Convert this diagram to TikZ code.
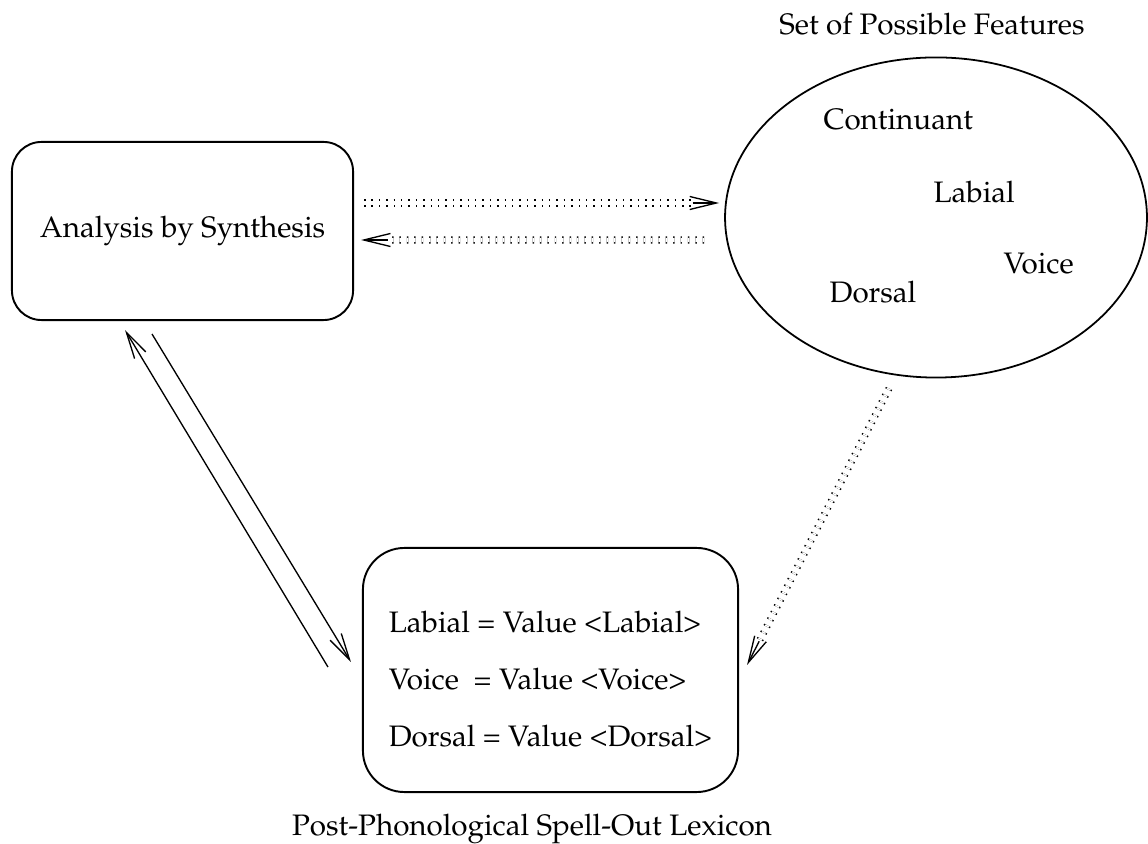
\documentclass[tikz,border=0pt]{standalone}
\usepackage[T1]{fontenc}
\usepackage{mathpazo}
\usetikzlibrary{positioning, calc, arrows.meta, shapes.geometric}

\begin{document}
\begin{tikzpicture}[
  x=0.338pt, y=-0.338pt,
  procbox/.style={rectangle, rounded corners=10pt, draw, line width=0.65pt, minimum width=115.3pt, minimum height=60.2pt, inner sep=0pt},
  lexbox/.style={rectangle, rounded corners=14pt, draw, line width=0.65pt, minimum width=126.8pt, minimum height=82.5pt, align=left, inner sep=0pt, text height=53.8pt, text depth=2pt},
  featset/.style={ellipse, draw, line width=0.6pt, minimum width=142.6pt, minimum height=108.2pt, inner sep=0pt},
  featname/.style={anchor=base west, inner sep=0pt},
  capt/.style={anchor=base, inner sep=0pt},
  arr/.style={-{Straight Barb[length=9pt, width=4.4pt]}, line width=0.45pt},
  ddot/.style={double, double distance=1.4pt, line width=0.5pt, dash pattern=on 0.5pt off 2pt},
  arrhead/.style={-{Straight Barb[length=9pt, width=4.4pt]}, line width=0.45pt},
]
\useasboundingbox (0,0) rectangle (1148,844);

% boxes
\node[procbox] (abs) at (182.5,231) {Analysis by Synthesis};
\node[featset] (feat) at (936,217.5) {};
\node[capt] (featttl) at (932,35) {Set of Possible Features};
\node[featname] (cont) at (823,130) {Continuant};
\node[featname] (lab) at (933,203) {Labial};
\node[featname] (voi) at (1003,274) {Voice};
\node[featname] (dor) at (829,303) {Dorsal};

\node[lexbox] (lex) at (550.5,670) {Labial = Value <Labial>\\[7.3pt] Voice~ = Value <Voice>\\[7.3pt] Dorsal = Value <Dorsal>};
\node[capt] (lexttl) at (532,835) {Post-Phonological Spell-Out Lexicon};

% connector ends
\coordinate (p1) at ($(abs.east)+(10,-28)$);
\coordinate (q1) at ($(feat.west)+(-5,-14.5)$);
\coordinate (p2) at ($(feat.west)+(-20,22.5)$);
\coordinate (q2) at ($(abs.east)+(7,9)$);
\coordinate (p3) at ($(feat.south)+(-47,10)$);
\coordinate (q3) at ($(lex.east)+(8,-5)$);
\coordinate (p4) at ($(lex.west)+(-34,-3)$);
\coordinate (q4) at ($(abs.south)+(-57.5,9)$);
\coordinate (p5) at ($(abs.south)+(-30.5,13)$);
\coordinate (q5) at ($(lex.west)+(-11,-8)$);

% dotted links
\draw[ddot] (p1) -- ($(q1)!9pt!(p1)$);
\draw[arrhead] ($(q1)!9pt!(p1)$) -- (q1);
\draw[ddot] (p2) -- ($(q2)!9pt!(p2)$);
\draw[arrhead] ($(q2)!9pt!(p2)$) -- (q2);
\draw[ddot] (p3) -- ($(q3)!9pt!(p3)$);
\draw[arrhead] ($(q3)!9pt!(p3)$) -- (q3);

% solid links
\draw[arr] (p4) -- (q4);
\draw[arr] (p5) -- (q5);

\end{tikzpicture}
\end{document}
